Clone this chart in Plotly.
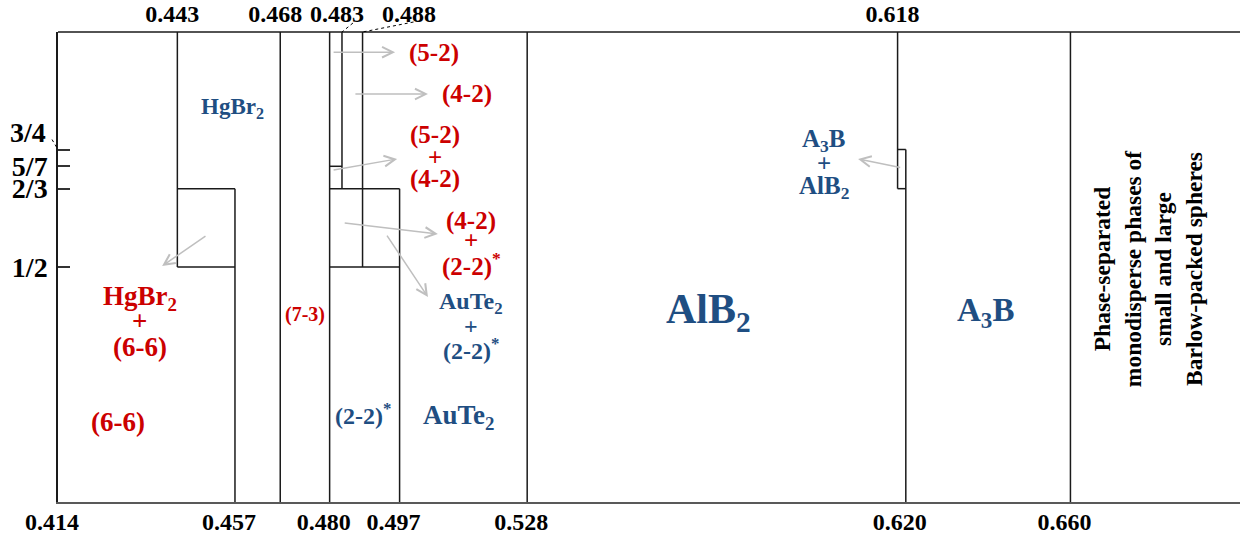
import plotly.graph_objects as go

# ---------------- data ----------------
x_bottom_ticks = [0.414, 0.457, 0.480, 0.497, 0.528, 0.620, 0.660]
x_top_ticks = [0.443, 0.468, 0.483, 0.618]
x_top_offset_tick = 0.488
y_ticks = [1/2, 2/3, 5/7, 3/4]
y_tick_labels = ["1/2", "2/3", "5/7", ""]
y_offset_tick = 3/4

# vertical phase boundaries: x, from y, to y
v_x  = [0.443, 0.457, 0.468, 0.480, 0.483, 0.488, 0.497, 0.528, 0.618, 0.620, 0.660]
v_y0 = [1/2,   0,     0,     0,     2/3,   1/2,   0,     0,     2/3,   0,     0]
v_y1 = [1,     2/3,   1,     1,     1,     1,     2/3,   1,     1,     3/4,   1]
# horizontal phase boundaries: y, from x, to x
h_y  = [2/3,   1/2,   5/7,   2/3,   1/2,   3/4,   2/3]
h_x0 = [0.443, 0.443, 0.480, 0.480, 0.480, 0.618, 0.618]
h_x1 = [0.457, 0.457, 0.483, 0.497, 0.497, 0.620, 0.620]

RED = "#CC0000"
BLUE = "#1F4E82"

# region labels: text, x, y, font size, colour
labels = [
    ("HgBr<sub>2</sub>", 0.4563, 0.838, 23, BLUE),
    ("HgBr<sub>2</sub>", 0.4339, 0.434, 27, RED),
    ("+", 0.4339, 0.385, 27, RED),
    ("(6-6)", 0.4339, 0.330, 27, RED),
    ("(6-6)", 0.4285, 0.170, 27, RED),
    ("(7-3)", 0.4740, 0.400, 20, RED),
    ("(5-2)", 0.5054, 0.955, 25, RED),
    ("(4-2)", 0.5133, 0.868, 25, RED),
    ("(5-2)", 0.5057, 0.781, 25, RED),
    ("+", 0.5057, 0.734, 25, RED),
    ("(4-2)", 0.5057, 0.687, 25, RED),
    ("(4-2)", 0.5144, 0.598, 25, RED),
    ("+", 0.5144, 0.557, 25, RED),
    ("(2-2)<sup>*</sup>", 0.5144, 0.506, 25, RED),
    ("AuTe<sub>2</sub>", 0.5144, 0.423, 24, BLUE),
    ("+", 0.5144, 0.374, 24, BLUE),
    ("(2-2)<sup>*</sup>", 0.5144, 0.326, 24, BLUE),
    ("(2-2)<sup>*</sup>", 0.4882, 0.187, 24, BLUE),
    ("AuTe<sub>2</sub>", 0.5112, 0.181, 27, BLUE),
    ("A<sub>3</sub>B", 0.6001, 0.770, 25, BLUE),
    ("+", 0.6001, 0.721, 25, BLUE),
    ("AlB<sub>2</sub>", 0.6001, 0.670, 25, BLUE),
    ("AlB<sub>2</sub>", 0.5720, 0.404, 42, BLUE),
    ("A<sub>3</sub>B", 0.6393, 0.404, 33, BLUE),
]

side_note = "Phase-separated<br>monodisperse phases of<br>small and large<br>Barlow-packed spheres"
side_note_pos = (0.6789, 0.498)

# arrows: tail x, tail y, head x, head y
arrows = [
    (0.4806, 0.957, 0.4959, 0.957),
    (0.4859, 0.868, 0.5039, 0.868),
    (0.4806, 0.706, 0.4964, 0.730),
    (0.4833, 0.594, 0.5063, 0.570),
    (0.4937, 0.570, 0.5039, 0.436),
    (0.4502, 0.568, 0.4393, 0.502),
    (0.6190, 0.711, 0.6084, 0.730),
]

X_MAX = 0.7012
FONT = "Liberation Serif, Times New Roman, serif"

# ---------------- figure ----------------
fig = go.Figure()

lx, ly = [], []
for x, y0, y1 in zip(v_x, v_y0, v_y1):
    lx += [x, x, None]
    ly += [y0, y1, None]
for y, x0, x1 in zip(h_y, h_x0, h_x1):
    lx += [x0, x1, None]
    ly += [y, y, None]

fig.add_trace(go.Scatter(x=lx, y=ly, mode="lines",
                         line=dict(color="#1a1a1a", width=1.5),
                         hoverinfo="skip", showlegend=False, cliponaxis=False))
# dummy trace to activate the top axis
fig.add_trace(go.Scatter(x=[x_top_ticks[0]], y=[0], xaxis="x2", mode="markers",
                         marker=dict(opacity=0), hoverinfo="skip", showlegend=False))

for text, x, y, size, color in labels:
    fig.add_annotation(x=x, y=y, xref="x", yref="y", text=f"<b>{text}</b>",
                       showarrow=False, font=dict(family=FONT, size=size, color=color),
                       xanchor="center", yanchor="middle")

fig.add_annotation(x=side_note_pos[0], y=side_note_pos[1], xref="x", yref="y",
                   text=f"<b>{side_note}</b>", textangle=-90, showarrow=False,
                   font=dict(family=FONT, size=23.5, color="black"), align="center")

for tx, ty, hx, hy in arrows:
    fig.add_annotation(x=hx, y=hy, ax=tx, ay=ty, xref="x", yref="y",
                       axref="x", ayref="y", text="", showarrow=True,
                       arrowhead=5, arrowsize=1.4, arrowwidth=1.5,
                       arrowcolor="#BFBFBF", standoff=0, startstandoff=0)

# offset top label 0.488 with dashed leader
fig.add_annotation(x=x_top_offset_tick, y=1, xref="x", yref="paper",
                   text=f"<b>{x_top_offset_tick:.3f}</b>", showarrow=False,
                   font=dict(family=FONT, size=24, color="black"),
                   xshift=46, yshift=18, yanchor="middle")
# offset 3/4 label with dashed leader
fig.add_annotation(x=0, y=y_offset_tick, xref="paper", yref="y",
                   text="<b>3/4</b>", showarrow=False,
                   font=dict(family=FONT, size=28, color="black"),
                   xanchor="right", xshift=-10, yshift=17, yanchor="middle")

def px_x(x):
    return (x - 0.414) / (X_MAX - 0.414)

shapes = [
    # top frame line
    dict(type="line", xref="paper", yref="paper", x0=0, x1=1, y0=1, y1=1,
         line=dict(color="#1a1a1a", width=1.5)),
    # leaders
    dict(type="line", xref="paper", yref="paper",
         x0=px_x(0.483) + 11 / 1182, y0=1 + 9 / 470, x1=px_x(0.483), y1=1,
         line=dict(color="black", width=1, dash="dot")),
    dict(type="line", xref="paper", yref="paper",
         x0=px_x(0.488) + 51 / 1182, y0=1 + 10 / 470, x1=px_x(0.488), y1=1,
         line=dict(color="black", width=1, dash="dot")),
    dict(type="line", xref="paper", yref="paper",
         x0=-6 / 1182, y0=y_offset_tick + 10 / 470, x1=0, y1=y_offset_tick,
         line=dict(color="black", width=1, dash="dot")),
]

fig.update_layout(
    width=1241, height=537,
    margin=dict(l=58, r=1, t=32, b=35, autoexpand=False),
    plot_bgcolor="white", paper_bgcolor="white",
    showlegend=False,
    shapes=shapes,
    xaxis=dict(range=[0.414, X_MAX], showgrid=False, zeroline=False,
               automargin=False,
               showline=True, linecolor="#595959", linewidth=2,
               tickvals=x_bottom_ticks,
               ticktext=[f"<b>{v:.3f}</b>" for v in x_bottom_ticks],
               ticks="", ticklabelstandoff=-3, ticklabelshift=-6,
               tickfont=dict(family=FONT, size=24, color="black")),
    xaxis2=dict(range=[0.414, X_MAX], overlaying="x", side="top",
                automargin=False,
                showgrid=False, zeroline=False, showline=False,
                tickvals=x_top_ticks,
                ticktext=[f"<b>{v:.3f}</b>" for v in x_top_ticks],
                ticks="", ticklabelstandoff=4, ticklabelshift=-5,
                tickfont=dict(family=FONT, size=24, color="black")),
    yaxis=dict(range=[0, 1], showgrid=False, zeroline=False,
               automargin=False,
               showline=True, linecolor="#1a1a1a", linewidth=1.5,
               ticks="inside", ticklen=12, tickwidth=1.5, tickcolor="#333333",
               tickvals=y_ticks,
               ticktext=[f"<b>{t}</b>" if t else "" for t in y_tick_labels],
               ticklabelstandoff=3,
               tickfont=dict(family=FONT, size=28, color="black")),
)

fig.write_html("out.html", config={"displayModeBar": False},
               post_script="document.body.style.margin='0';document.body.style.overflow='hidden';")
